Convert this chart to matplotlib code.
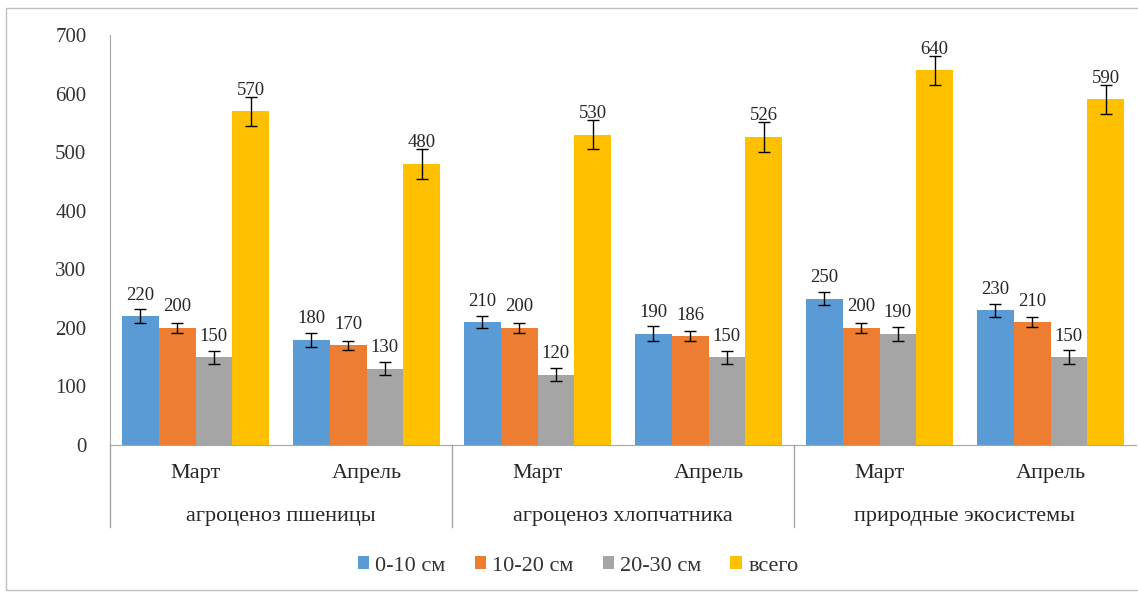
import numpy as np
import matplotlib.pyplot as plt
from matplotlib.patches import Rectangle
from matplotlib.lines import Line2D
from matplotlib.transforms import blended_transform_factory

plt.rcParams['font.family'] = ['Liberation Serif', 'DejaVu Serif']

# data
months = ["Март", "Апрель", "Март", "Апрель", "Март", "Апрель"]
groups = ["агроценоз пшеницы", "агроценоз хлопчатника", "природные экосистемы"]
series = ["0-10 см", "10-20 см", "20-30 см", "всего"]
colors = ["#5B9BD5", "#ED7D31", "#A5A5A5", "#FFC000"]

v_0_10 = [220, 180, 210, 190, 250, 230]
v_10_20 = [200, 170, 200, 186, 200, 210]
v_20_30 = [150, 130, 120, 150, 190, 150]
v_total = [570, 480, 530, 526, 640, 590]

err_0_10 = [12, 12, 11, 13, 11, 11]
err_10_20 = [8, 8, 8, 8, 8, 8]
err_20_30 = [11, 11, 11, 11, 12, 12]
err_total = [25, 25, 25, 25, 25, 25]

values = [v_0_10, v_10_20, v_20_30, v_total]
errors = [err_0_10, err_10_20, err_20_30, err_total]

fig = plt.figure(figsize=(11.38, 5.93), dpi=100)
ax = fig.add_axes([110 / 1138, 1 - 445 / 593, 1026 / 1138, 410 / 593])

# outer chart frame
fig.patches.append(Rectangle((6 / 1138, 3 / 593), 1140 / 1138, 582 / 593,
                             transform=fig.transFigure, fill=False,
                             edgecolor="#BFBFBF", linewidth=1))

x = np.arange(len(months))
w = 0.215
for i, (vals, errs) in enumerate(zip(values, errors)):
    pos = x + (i - 1.5) * w
    ax.bar(pos, vals, width=w, color=colors[i], label=series[i],
           yerr=errs, capsize=4.5, error_kw=dict(ecolor="black", elinewidth=1, capthick=1))
    for px, v in zip(pos, vals):
        ax.annotate(str(v), (px, v), xytext=(0, 9), textcoords="offset points",
                    ha="center", va="bottom", fontsize=13.5, color="#262626")

ax.set_xlim(-0.5, 5.5)
ax.set_ylim(0, 700)
ax.set_yticks(range(0, 701, 100))
ax.tick_params(axis="y", length=0, labelsize=15, pad=17, colors="#333333")
ax.tick_params(axis="x", length=0)
ax.set_xticks([])

for s in ["top", "right"]:
    ax.spines[s].set_visible(False)
ax.spines["left"].set_color("#A6A6A6")
ax.spines["bottom"].set_color("#A6A6A6")

# category labels
trans = blended_transform_factory(ax.transData, ax.transAxes)
for xi, m in zip(x, months):
    ax.text(xi, -0.07, m, transform=trans, ha="center", va="center", fontsize=16, color="#262626")
for gi, g in enumerate(groups):
    ax.text(2 * gi + 0.5, -0.175, g, transform=trans, ha="center", va="center", fontsize=16, color="#262626")

# separators
for xs in [-0.5, 1.5, 3.5]:
    ax.add_line(Line2D([xs, xs], [0, -0.2], transform=trans, color="#A6A6A6",
                       linewidth=1, clip_on=False))

fig.legend(loc="center", bbox_to_anchor=(578 / 1138, 1 - 566 / 593), ncol=4, frameon=False,
           fontsize=16, handlelength=0.5, handleheight=0.5, handletextpad=0.3,
           columnspacing=1.3, labelcolor="#333333")

plt.savefig("out.png", dpi=100)
plt.close()
